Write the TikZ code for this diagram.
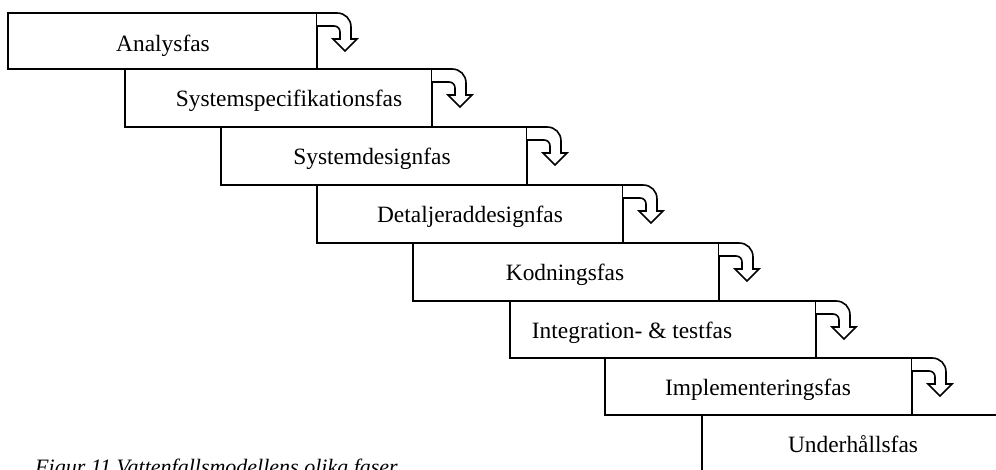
\documentclass[tikz,border=0pt]{standalone}
\usepackage{fontspec}
\setmainfont{Liberation Serif}
\begin{document}
\begin{tikzpicture}[x=1pt,y=-1pt,
  phase/.style={draw=black, line width=1.8pt, fill=white, inner sep=0pt, outer sep=0pt, anchor=north west},
  lbl/.style={inner sep=0pt, anchor=base, font=\fontsize{23.4}{28}\selectfont},
  bentarrow/.style={draw=black, line width=1.6pt, fill=white, line join=miter}
]
\useasboundingbox (0,0) rectangle (996,469);
\clip (0,0) rectangle (996,469);
\fill[white] (0,0) rectangle (996,469);
\node[phase, minimum width=309pt, minimum height=56pt] (b1) at (8,13) {};
\node[phase, minimum width=307pt, minimum height=58pt] (b2) at (125,69) {};
\node[phase, minimum width=306pt, minimum height=58pt] (b3) at (221,127) {};
\node[phase, minimum width=306pt, minimum height=58pt] (b4) at (317,185) {};
\node[phase, minimum width=306pt, minimum height=58pt] (b5) at (413,243) {};
\node[phase, minimum width=306pt, minimum height=57pt] (b6) at (510,301) {};
\node[phase, minimum width=307pt, minimum height=57pt] (b7) at (605,358) {};
\node[phase, minimum width=309pt, minimum height=60pt] (b8) at (702,415) {};
% labels
\node[lbl] (t1) at (163,51) {Analysfas};
\node[lbl] (t2) at (289,106) {Systemspecifikationsfas};
\node[lbl] (t3) at (372,164) {Systemdesignfas};
\node[lbl] (t4) at (470,222) {Detaljeraddesignfas};
\node[lbl] (t5) at (565,280) {Kodningsfas};
\node[lbl] (t6) at (632,338) {Integration- \& testfas};
\node[lbl] (t7) at (758,395) {Implementeringsfas};
\node[lbl] (t8) at (853,452) {Underhållsfas};
% bent arrows
\foreach \b in {b1,b2,b3,b4,b5,b6,b7}{
  \begin{scope}[shift={(\b.north east)}]
    \path[bentarrow] (0,0) -- (20,0) .. controls (28,0) and (34,6) .. (34,14)
      -- (34,26) -- (40,26) -- (28,38) -- (16,26) -- (23,26) -- (23,19)
      .. controls (23,15.5) and (20.5,13) .. (17,13) -- (0,13);
  \end{scope}
}
% caption (cut off by the picture edge)
\node[inner sep=0pt, anchor=base west, font=\fontsize{22}{26}\selectfont\itshape] (cap) at (35,474) {Figur 11 Vattenfallsmodellens olika faser};
\end{tikzpicture}
\end{document}
